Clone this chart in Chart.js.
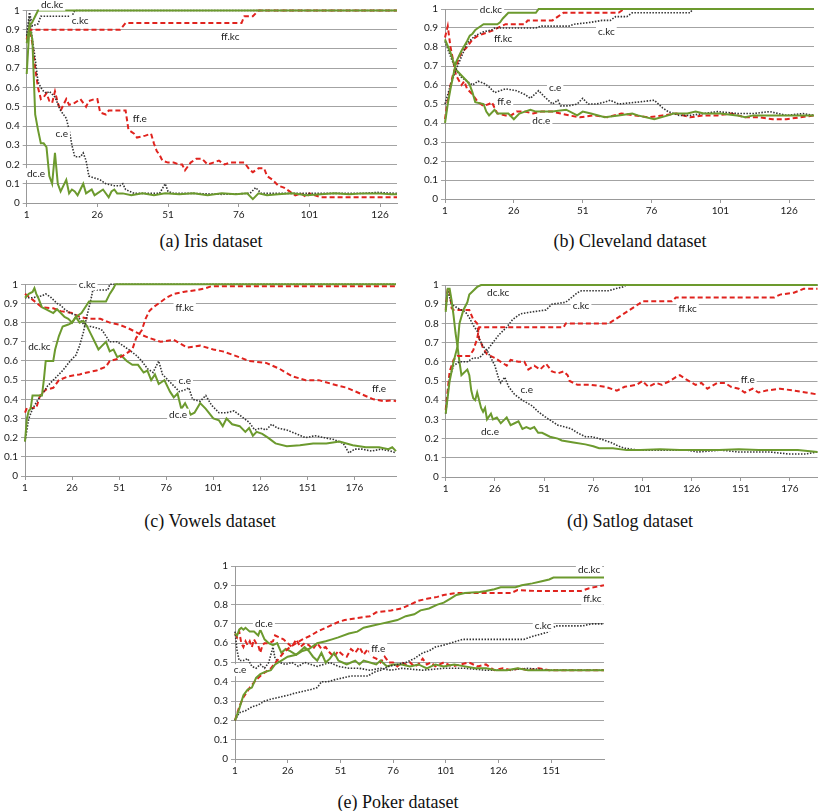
<!DOCTYPE html>
<html>
<head>
<meta charset="utf-8">
<script src="https://cdn.jsdelivr.net/npm/chart.js@4.4.0/dist/chart.umd.min.js"></script>
<style>
  body { margin: 0; background: #fff; width: 818px; height: 811px; position: relative; overflow: hidden; }
  canvas { position: absolute; }
  .cap { position: absolute; font-family: "Liberation Serif", "Times New Roman", serif; font-size: 18px; line-height: 1; color: #111; transform: translateX(-50%); white-space: nowrap; }
</style>
</head>
<body>
<script>
// series order used in every panel
var seriesNames = ['dc.kc', 'c.kc', 'ff.kc', 'dc.e', 'c.e', 'ff.e'];
var yTicks = [0, 0.1, 0.2, 0.3, 0.4, 0.5, 0.6, 0.7, 0.8, 0.9, 1];

// (a) Iris
var irisLen = 132;
var irisXTicks = [1, 26, 51, 76, 101, 126];
var irisDcKc = [[1,0.83],[2,0.92],[3,0.94],[4,0.97],[5,1],[132,1]];
var irisCKc = [[1,0.87],[2,0.99],[3,0.92],[5,0.93],[6,0.97],[17,0.97],[18,1],[132,1]];
var irisFfKc = [[1,0.85],[2,0.9],[34,0.9],[36,0.935],[77,0.935],[78,0.97],[81,0.97],[83,1],[132,1]];
var irisDcE = [[1,0.67],[2,0.92],[3,0.85],[4,0.46],[5,0.38],[6,0.31],[7,0.31],[8,0.29],[9,0.14],[10,0.1],[11,0.26],[12,0.1],[13,0.06],[14,0.09],[15,0.12],[16,0.05],[17,0.07],[18,0.06],[19,0.04],[20,0.07],[21,0.1],[22,0.05],[23,0.06],[24,0.07],[25,0.04],[26,0.05],[28,0.07],[30,0.03],[31,0.06],[32,0.07],[33,0.05],[35,0.05],[38,0.04],[42,0.05],[46,0.04],[50,0.05],[55,0.045],[60,0.05],[65,0.04],[70,0.05],[75,0.045],[79,0.05],[81,0.02],[83,0.05],[86,0.04],[90,0.045],[95,0.05],[100,0.04],[105,0.045],[110,0.05],[115,0.045],[120,0.05],[125,0.05],[130,0.045],[132,0.045]];
var irisCE = [[1,0.85],[2,0.97],[3,0.85],[4,0.75],[5,0.63],[6,0.6],[7,0.58],[8,0.57],[9,0.58],[11,0.55],[13,0.48],[14,0.46],[15,0.44],[16,0.38],[17,0.3],[18,0.24],[20,0.24],[21,0.26],[22,0.22],[23,0.14],[25,0.13],[27,0.12],[29,0.1],[32,0.09],[34,0.09],[35,0.1],[36,0.07],[39,0.05],[44,0.05],[48,0.05],[50,0.1],[51,0.06],[53,0.05],[60,0.05],[70,0.045],[80,0.05],[82,0.08],[84,0.05],[90,0.05],[100,0.05],[110,0.05],[120,0.05],[125,0.055],[132,0.05]];
var irisFfE = [[1,0.85],[2,0.91],[3,0.83],[4,0.7],[5,0.6],[6,0.54],[7,0.55],[8,0.57],[9,0.53],[10,0.52],[11,0.58],[12,0.52],[13,0.48],[15,0.54],[16,0.51],[18,0.52],[20,0.54],[22,0.5],[23,0.53],[25,0.54],[26,0.54],[27,0.47],[29,0.46],[30,0.48],[36,0.48],[37,0.38],[39,0.36],[40,0.34],[43,0.35],[45,0.36],[46,0.31],[47,0.27],[48,0.25],[49,0.22],[51,0.21],[53,0.21],[55,0.2],[56,0.2],[57,0.17],[59,0.21],[61,0.23],[63,0.23],[65,0.2],[67,0.21],[69,0.22],[71,0.2],[73,0.21],[78,0.21],[80,0.17],[81,0.16],[83,0.18],[85,0.18],[86,0.14],[88,0.12],[90,0.09],[92,0.08],[94,0.06],[96,0.04],[98,0.05],[100,0.03],[101,0.05],[103,0.04],[105,0.03],[132,0.03]];
var irisTags = [['dc.kc',10,1.03],['c.kc',19.9,0.945],['ff.kc',73,0.865],['ff.e',41,0.44],['c.e',13.4,0.36],['dc.e',4.3,0.15]];

// (b) Cleveland
var cleveLen = 135;
var cleveXTicks = [1, 26, 51, 76, 101, 126];
var cleveDcKc = [[1,0.4],[2,0.5],[3,0.58],[4,0.65],[5,0.72],[6,0.75],[7,0.78],[9,0.83],[10,0.86],[11,0.87],[12,0.89],[13,0.9],[15,0.92],[20,0.92],[21,0.93],[22,0.95],[24,0.98],[34,0.98],[35,1],[135,1]];
var cleveCKc = [[1,0.5],[3,0.6],[5,0.68],[7,0.75],[9,0.82],[12,0.86],[15,0.88],[18,0.89],[19,0.9],[34,0.9],[36,0.91],[46,0.91],[48,0.92],[54,0.93],[58,0.94],[61,0.94],[63,0.96],[67,0.96],[69,0.98],[90,0.98],[91,1],[135,1]];
var cleveFfKc = [[1,0.42],[2,0.52],[3,0.6],[4,0.66],[5,0.7],[6,0.74],[7,0.77],[9,0.8],[11,0.84],[13,0.86],[15,0.87],[17,0.88],[19,0.89],[20,0.9],[23,0.92],[30,0.92],[31,0.94],[40,0.94],[42,0.96],[44,0.98],[64,0.98],[66,1],[135,1]];
var cleveDcE = [[1,0.84],[3,0.77],[5,0.68],[7,0.65],[9,0.62],[10,0.6],[11,0.56],[12,0.51],[15,0.5],[16,0.46],[17,0.44],[19,0.47],[20,0.45],[24,0.45],[26,0.42],[28,0.45],[30,0.46],[32,0.47],[34,0.46],[40,0.46],[45,0.47],[49,0.44],[51,0.46],[54,0.45],[59,0.43],[64,0.44],[69,0.45],[71,0.44],[77,0.42],[82,0.44],[84,0.45],[89,0.45],[92,0.46],[95,0.45],[101,0.45],[107,0.44],[110,0.43],[113,0.44],[119,0.44],[125,0.44],[131,0.44],[135,0.44]];
var cleveCE = [[1,0.83],[3,0.75],[5,0.68],[7,0.64],[9,0.62],[11,0.6],[13,0.62],[15,0.61],[17,0.59],[19,0.56],[21,0.57],[23,0.58],[27,0.57],[30,0.55],[32,0.53],[35,0.57],[37,0.54],[40,0.5],[42,0.52],[43,0.49],[46,0.49],[49,0.5],[51,0.53],[53,0.5],[56,0.5],[59,0.51],[61,0.52],[64,0.5],[71,0.51],[77,0.52],[80,0.48],[82,0.46],[86,0.44],[90,0.44],[95,0.45],[100,0.46],[107,0.45],[113,0.45],[119,0.46],[125,0.44],[131,0.45],[135,0.44]];
var cleveFfE = [[1,0.85],[2,0.91],[3,0.8],[5,0.65],[7,0.6],[8,0.62],[9,0.58],[11,0.55],[13,0.51],[15,0.49],[17,0.5],[18,0.51],[20,0.45],[23,0.44],[25,0.44],[27,0.46],[30,0.46],[33,0.45],[36,0.46],[40,0.46],[43,0.45],[46,0.44],[50,0.43],[55,0.44],[60,0.43],[65,0.45],[70,0.44],[75,0.43],[80,0.44],[85,0.45],[90,0.43],[95,0.44],[100,0.44],[105,0.45],[110,0.43],[115,0.43],[120,0.42],[125,0.42],[130,0.43],[135,0.44]];
var cleveTags = [['dc.kc',17.7,0.997],['c.kc',59.6,0.878],['ff.kc',22.1,0.843],['c.e',41,0.585],['ff.e',22.5,0.513],['dc.e',36,0.41]];

// (c) Vowels
var vowLen = 198;
var vowXTicks = [1, 26, 51, 76, 101, 126, 151, 176];
var vowDcKc = [[1,0.18],[2,0.3],[3,0.34],[4,0.35],[5,0.42],[10,0.42],[11,0.5],[12,0.6],[16,0.6],[17,0.66],[19,0.73],[21,0.78],[24,0.79],[26,0.8],[28,0.83],[31,0.85],[33,0.88],[35,0.91],[44,0.91],[46,0.95],[48,0.98],[49,1],[198,1]];
var vowCKc = [[1,0.18],[3,0.3],[5,0.35],[8,0.4],[11,0.44],[13,0.47],[16,0.5],[19,0.53],[21,0.55],[25,0.6],[28,0.63],[30,0.68],[32,0.75],[34,0.84],[36,0.92],[37,0.97],[45,0.97],[46,1],[198,1]];
var vowFfKc = [[1,0.33],[2,0.355],[7,0.355],[9,0.42],[12,0.45],[16,0.46],[19,0.5],[24,0.52],[30,0.53],[34,0.54],[39,0.55],[44,0.57],[46,0.6],[50,0.61],[55,0.64],[58,0.66],[60,0.72],[63,0.76],[65,0.82],[67,0.86],[69,0.88],[72,0.9],[76,0.93],[80,0.95],[85,0.96],[92,0.97],[97,0.98],[100,0.99],[198,0.99]];
var vowDcE = [[1,0.93],[3,0.95],[5,0.96],[6,0.98],[7,0.95],[8,0.93],[10,0.88],[12,0.87],[14,0.86],[16,0.85],[18,0.87],[20,0.85],[22,0.83],[24,0.82],[26,0.8],[28,0.83],[30,0.8],[32,0.81],[34,0.78],[36,0.74],[38,0.7],[40,0.66],[42,0.68],[44,0.7],[46,0.65],[48,0.66],[50,0.62],[52,0.63],[55,0.6],[58,0.58],[61,0.58],[64,0.54],[66,0.55],[68,0.5],[70,0.53],[72,0.48],[75,0.5],[78,0.44],[80,0.41],[82,0.43],[84,0.35],[86,0.38],[89,0.32],[91,0.33],[94,0.38],[97,0.35],[101,0.3],[104,0.29],[106,0.26],[108,0.3],[111,0.27],[115,0.26],[118,0.23],[120,0.25],[122,0.21],[124,0.23],[127,0.22],[130,0.2],[134,0.17],[140,0.155],[147,0.16],[154,0.17],[161,0.17],[168,0.18],[175,0.16],[182,0.15],[189,0.15],[194,0.14],[196,0.15],[198,0.13]];
var vowCE = [[1,0.93],[5,0.93],[10,0.94],[12,0.95],[15,0.93],[18,0.9],[20,0.89],[22,0.87],[25,0.85],[28,0.84],[30,0.82],[33,0.78],[36,0.78],[40,0.77],[42,0.76],[44,0.73],[46,0.7],[50,0.7],[53,0.68],[56,0.66],[60,0.63],[63,0.6],[66,0.56],[69,0.54],[72,0.6],[74,0.53],[77,0.5],[80,0.47],[83,0.44],[86,0.45],[88,0.46],[90,0.4],[94,0.39],[97,0.42],[100,0.37],[104,0.33],[108,0.33],[112,0.34],[116,0.31],[120,0.28],[123,0.24],[126,0.25],[129,0.24],[132,0.27],[135,0.25],[140,0.24],[145,0.22],[150,0.2],[155,0.21],[160,0.2],[165,0.19],[170,0.17],[173,0.12],[176,0.14],[180,0.14],[185,0.13],[190,0.14],[195,0.13],[198,0.12]];
var vowFfE = [[1,0.95],[5,0.92],[10,0.88],[16,0.875],[20,0.86],[26,0.85],[30,0.83],[35,0.82],[41,0.82],[46,0.8],[51,0.79],[56,0.77],[62,0.74],[67,0.72],[73,0.7],[80,0.71],[87,0.67],[94,0.68],[101,0.66],[106,0.65],[112,0.63],[120,0.6],[129,0.59],[136,0.56],[143,0.52],[150,0.5],[157,0.5],[164,0.48],[172,0.46],[179,0.43],[186,0.4],[192,0.39],[196,0.395],[198,0.39]];
var vowTags = [['c.kc',34,1.0],['ff.kc',85.8,0.875],['dc.kc',8.6,0.674],['c.e',85.8,0.495],['ff.e',189,0.457],['dc.e',82.3,0.32]];

// (d) Satlog
var satLen = 190;
var satXTicks = [1, 26, 51, 76, 101, 126, 151, 176];
var satDcKc = [[1,0.33],[3,0.5],[5,0.6],[7,0.68],[8,0.8],[10,0.87],[12,0.91],[13,0.95],[15,0.97],[17,0.99],[19,1],[190,1]];
var satCKc = [[1,0.33],[3,0.52],[5,0.58],[8,0.6],[12,0.6],[15,0.62],[18,0.62],[22,0.66],[25,0.7],[28,0.74],[32,0.78],[35,0.82],[39,0.85],[45,0.86],[52,0.87],[55,0.9],[62,0.91],[68,0.96],[70,0.97],[84,0.97],[87,0.98],[91,0.99],[93,1],[190,1]];
var satFfKc = [[1,0.35],[3,0.55],[5,0.61],[7,0.63],[13,0.63],[15,0.66],[17,0.72],[18,0.78],[61,0.78],[62,0.8],[84,0.8],[87,0.82],[93,0.86],[99,0.9],[101,0.915],[116,0.915],[118,0.935],[168,0.935],[171,0.95],[178,0.96],[183,0.98],[190,0.98]];
var satDcE = [[1,0.86],[2,0.98],[3,0.98],[4,0.92],[5,0.84],[6,0.75],[7,0.68],[8,0.6],[9,0.53],[10,0.54],[11,0.55],[12,0.56],[13,0.53],[14,0.45],[15,0.41],[16,0.4],[17,0.44],[18,0.4],[19,0.36],[20,0.34],[21,0.36],[22,0.3],[24,0.33],[25,0.3],[27,0.31],[29,0.28],[31,0.3],[32,0.31],[34,0.27],[36,0.28],[38,0.29],[40,0.25],[42,0.26],[44,0.25],[46,0.26],[48,0.23],[50,0.23],[54,0.21],[58,0.2],[60,0.19],[66,0.18],[72,0.17],[76,0.16],[79,0.15],[86,0.15],[93,0.14],[100,0.14],[110,0.145],[120,0.14],[130,0.14],[140,0.14],[150,0.145],[160,0.14],[170,0.14],[180,0.14],[190,0.13]];
var satCE = [[1,0.88],[2,0.97],[4,0.9],[7,0.88],[11,0.86],[13,0.83],[15,0.79],[17,0.76],[18,0.72],[20,0.68],[22,0.66],[24,0.62],[26,0.58],[28,0.51],[29,0.49],[31,0.52],[33,0.47],[36,0.43],[40,0.4],[45,0.37],[48,0.34],[52,0.31],[55,0.29],[58,0.27],[62,0.26],[65,0.25],[68,0.23],[72,0.21],[75,0.21],[79,0.2],[82,0.19],[85,0.18],[89,0.16],[92,0.15],[99,0.14],[107,0.14],[116,0.14],[124,0.14],[129,0.13],[141,0.14],[150,0.13],[158,0.13],[166,0.13],[175,0.12],[184,0.12],[190,0.13]];
var satFfE = [[1,0.87],[2,0.98],[3,0.97],[4,0.88],[5,0.87],[13,0.87],[15,0.82],[17,0.8],[18,0.72],[19,0.7],[20,0.67],[22,0.64],[24,0.63],[26,0.62],[29,0.6],[32,0.58],[34,0.61],[38,0.6],[41,0.6],[43,0.56],[46,0.58],[49,0.56],[52,0.59],[55,0.55],[58,0.54],[61,0.55],[63,0.53],[64,0.5],[68,0.48],[75,0.48],[82,0.47],[88,0.45],[92,0.47],[98,0.48],[101,0.5],[104,0.47],[108,0.49],[111,0.48],[115,0.5],[118,0.52],[120,0.53],[123,0.51],[128,0.48],[131,0.49],[134,0.46],[139,0.49],[143,0.49],[146,0.47],[150,0.46],[153,0.44],[157,0.46],[160,0.44],[164,0.45],[171,0.46],[178,0.45],[184,0.44],[190,0.43]];
var satTags = [['dc.kc',27.7,0.962],['c.kc',69.8,0.892],['ff.kc',124,0.878],['c.e',42.2,0.452],['ff.e',154.5,0.505],['dc.e',23.5,0.238]];

// (e) Poker
var pokLen = 176;
var pokXTicks = [1, 26, 51, 76, 101, 126, 151];
var pokDcKc = [[1,0.2],[3,0.26],[5,0.33],[7,0.36],[9,0.37],[11,0.42],[13,0.44],[15,0.45],[18,0.46],[20,0.49],[23,0.51],[26,0.53],[30,0.54],[33,0.56],[36,0.57],[40,0.6],[44,0.61],[47,0.62],[50,0.63],[55,0.65],[59,0.66],[62,0.68],[66,0.69],[70,0.7],[74,0.71],[78,0.72],[82,0.74],[86,0.75],[89,0.77],[93,0.78],[97,0.8],[100,0.81],[103,0.83],[106,0.85],[110,0.86],[117,0.865],[120,0.87],[124,0.88],[127,0.89],[134,0.89],[137,0.9],[142,0.91],[146,0.92],[150,0.93],[152,0.94],[176,0.94]];
var pokCKc = [[1,0.2],[3,0.24],[6,0.25],[9,0.27],[12,0.28],[15,0.3],[18,0.31],[22,0.32],[26,0.33],[29,0.34],[33,0.35],[37,0.36],[40,0.37],[42,0.4],[45,0.4],[48,0.41],[52,0.42],[56,0.43],[64,0.43],[67,0.45],[70,0.46],[74,0.48],[78,0.49],[82,0.5],[86,0.52],[90,0.55],[93,0.56],[96,0.58],[100,0.59],[103,0.6],[106,0.61],[109,0.62],[138,0.62],[142,0.635],[147,0.65],[150,0.66],[153,0.69],[160,0.69],[166,0.69],[170,0.7],[176,0.7]];
var pokFfKc = [[1,0.2],[3,0.27],[5,0.32],[8,0.37],[11,0.41],[14,0.44],[18,0.47],[21,0.51],[24,0.55],[27,0.58],[30,0.6],[33,0.62],[37,0.64],[40,0.66],[46,0.69],[50,0.71],[53,0.72],[59,0.73],[65,0.74],[68,0.76],[75,0.77],[80,0.78],[84,0.8],[88,0.82],[92,0.83],[97,0.84],[100,0.85],[106,0.86],[132,0.86],[135,0.875],[145,0.87],[165,0.87],[169,0.885],[176,0.9]];
var pokDcE = [[1,0.65],[2,0.64],[3,0.67],[4,0.68],[5,0.67],[6,0.68],[8,0.66],[10,0.66],[12,0.64],[13,0.67],[15,0.62],[17,0.6],[19,0.59],[21,0.6],[23,0.55],[25,0.57],[27,0.56],[30,0.54],[32,0.56],[34,0.58],[36,0.56],[38,0.53],[40,0.51],[42,0.55],[44,0.5],[46,0.52],[48,0.55],[50,0.51],[52,0.5],[54,0.49],[56,0.5],[58,0.51],[60,0.49],[62,0.51],[65,0.5],[68,0.49],[70,0.51],[73,0.48],[76,0.49],[80,0.49],[84,0.48],[88,0.49],[92,0.47],[96,0.49],[100,0.48],[105,0.49],[110,0.48],[115,0.47],[120,0.47],[125,0.46],[130,0.46],[135,0.47],[140,0.46],[150,0.46],[160,0.46],[176,0.46]];
var pokCE = [[1,0.66],[2,0.56],[3,0.51],[5,0.51],[7,0.52],[9,0.48],[11,0.47],[13,0.49],[15,0.47],[17,0.5],[19,0.58],[20,0.52],[22,0.5],[25,0.49],[28,0.5],[31,0.48],[34,0.5],[37,0.49],[40,0.48],[43,0.49],[46,0.5],[50,0.48],[55,0.47],[60,0.47],[65,0.46],[70,0.47],[75,0.46],[80,0.47],[90,0.46],[100,0.47],[110,0.47],[120,0.46],[130,0.46],[140,0.47],[150,0.46],[176,0.46]];
var pokFfE = [[1,0.65],[2,0.63],[3,0.66],[4,0.6],[5,0.58],[6,0.61],[7,0.59],[8,0.61],[9,0.58],[10,0.62],[11,0.6],[12,0.59],[13,0.55],[14,0.59],[15,0.6],[17,0.6],[19,0.61],[20,0.64],[22,0.63],[24,0.62],[26,0.6],[28,0.58],[30,0.62],[32,0.58],[34,0.6],[36,0.59],[38,0.57],[40,0.6],[42,0.57],[44,0.58],[46,0.55],[48,0.53],[50,0.56],[52,0.54],[54,0.53],[56,0.57],[58,0.55],[60,0.58],[62,0.54],[64,0.57],[66,0.53],[68,0.52],[70,0.5],[72,0.53],[74,0.5],[76,0.5],[78,0.48],[80,0.5],[82,0.49],[84,0.5],[86,0.48],[88,0.49],[90,0.52],[92,0.49],[94,0.5],[96,0.48],[100,0.5],[104,0.48],[108,0.49],[112,0.5],[116,0.48],[120,0.49],[124,0.46],[128,0.47],[132,0.46],[136,0.47],[140,0.46],[145,0.47],[150,0.46],[160,0.46],[176,0.46]];
var pokTags = [['dc.kc',168.9,0.98],['ff.kc',170.5,0.83],['c.kc',147.1,0.69],['dc.e',14.7,0.7],['ff.e',68.9,0.57],['c.e',3.4,0.46]];

// where each panel sits on the page
var panels = [
    { caption: '(a) Iris dataset', len: irisLen, xTicks: irisXTicks, series: [irisDcKc, irisCKc, irisFfKc, irisDcE, irisCE, irisFfE], tags: irisTags,
      box: { left: 0, top: 0, width: 400, height: 225, yw: 26.7, padTop: 10.5, padRight: 3 }, capX: 211, capY: 241 },
    { caption: '(b) Cleveland dataset', len: cleveLen, xTicks: cleveXTicks, series: [cleveDcKc, cleveCKc, cleveFfKc, cleveDcE, cleveCE, cleveFfE], tags: cleveTags,
      box: { left: 410, top: 0, width: 408, height: 221.3, yw: 35, padTop: 5.7, padRight: 4 }, capX: 630, capY: 241 },
    { caption: '(c) Vowels dataset', len: vowLen, xTicks: vowXTicks, series: [vowDcKc, vowCKc, vowFfKc, vowDcE, vowCE, vowFfE], tags: vowTags,
      box: { left: 0, top: 274, width: 400, height: 223.7, yw: 25, padTop: 10.3, padRight: 4 }, capX: 210, capY: 521 },
    { caption: '(d) Satlog dataset', len: satLen, xTicks: satXTicks, series: [satDcKc, satCKc, satFfKc, satDcE, satCE, satFfE], tags: satTags,
      box: { left: 410, top: 274, width: 408, height: 224.7, yw: 35.7, padTop: 11, padRight: 0.5 }, capX: 630, capY: 521 },
    { caption: '(e) Poker dataset', len: pokLen, xTicks: pokXTicks, series: [pokDcKc, pokCKc, pokFfKc, pokDcE, pokCE, pokFfE], tags: pokTags,
      box: { left: 200, top: 555, width: 410, height: 226.3, yw: 35, padTop: 11, padRight: 6 }, capX: 398, capY: 802 }
];

var tickFont = { family: 'Lato, "Liberation Sans", sans-serif', size: 10 };

function styleFor(name) {
    if (name.indexOf('dc.') === 0) return { borderColor: '#6c9a2e', borderWidth: 2, borderDash: [] };
    if (name.indexOf('c.') === 0) return { borderColor: '#333333', borderWidth: 1.6, borderDash: [1.5, 1.5] };
    return { borderColor: '#e0231e', borderWidth: 2, borderDash: [5, 3] };
}

// data labels with white box, drawn at data coordinates
function tagPlugin(items) {
    return {
        id: 'tags',
        afterDatasetsDraw: function (chart) {
            var ctx = chart.ctx;
            var xs = chart.scales.x, ys = chart.scales.y;
            ctx.save();
            ctx.font = '10px Lato, "Liberation Sans", sans-serif';
            ctx.textAlign = 'center';
            ctx.textBaseline = 'middle';
            items.forEach(function (t) {
                var px = xs.getPixelForValue(t[1]);
                var py = ys.getPixelForValue(t[2]);
                var w = ctx.measureText(t[0]).width + 4;
                ctx.fillStyle = '#fff';
                ctx.fillRect(px - w / 2, py - 6, w, 12);
                ctx.fillStyle = '#1a1a1a';
                ctx.fillText(t[0], px, py);
            });
            ctx.restore();
        }
    };
}

panels.forEach(function (p) {
    var b = p.box;
    var canvas = document.createElement('canvas');
    canvas.width = b.width;
    canvas.height = Math.round(b.height);
    canvas.style.left = b.left + 'px';
    canvas.style.top = b.top + 'px';
    document.body.appendChild(canvas);

    var cap = document.createElement('div');
    cap.className = 'cap';
    cap.textContent = p.caption;
    cap.style.left = p.capX + 'px';
    cap.style.top = (p.capY - 9) + 'px';
    document.body.appendChild(cap);

    var datasets = seriesNames.map(function (name, i) {
        var s = styleFor(name);
        return {
            label: name,
            data: p.series[i],
            borderColor: s.borderColor,
            borderWidth: s.borderWidth,
            borderDash: s.borderDash,
            pointRadius: 0,
            tension: 0,
            fill: false,
            clip: 3
        };
    });

    new Chart(canvas.getContext('2d'), {
        type: 'line',
        data: { datasets: datasets },
        options: {
            responsive: false,
            animation: false,
            layout: { padding: { top: b.padTop, right: b.padRight, left: 0, bottom: 0 } },
            plugins: { legend: { display: false }, tooltip: { enabled: false } },
            scales: {
                x: {
                    type: 'linear',
                    min: 1,
                    max: p.len,
                    afterBuildTicks: function (s) { s.ticks = p.xTicks.map(function (v) { return { value: v }; }); },
                    afterFit: function (s) { s.height = 22; },
                    grid: { drawOnChartArea: false, drawTicks: true, tickLength: 4, color: '#999' },
                    border: { display: true, color: '#999' },
                    ticks: { font: tickFont, color: '#1a1a1a', padding: 2, maxRotation: 0, autoSkip: false }
                },
                y: {
                    min: 0,
                    max: 1,
                    afterBuildTicks: function (s) { s.ticks = yTicks.map(function (v) { return { value: v }; }); },
                    afterFit: function (s) { s.width = b.yw; },
                    grid: { color: '#a3a3a3', lineWidth: 1, tickLength: 4 },
                    border: { display: true, color: '#999' },
                    ticks: { font: tickFont, color: '#1a1a1a', padding: 3, callback: function (v) { return String(v); } }
                }
            }
        },
        plugins: [tagPlugin(p.tags)]
    });
});
</script>
</body>
</html>
